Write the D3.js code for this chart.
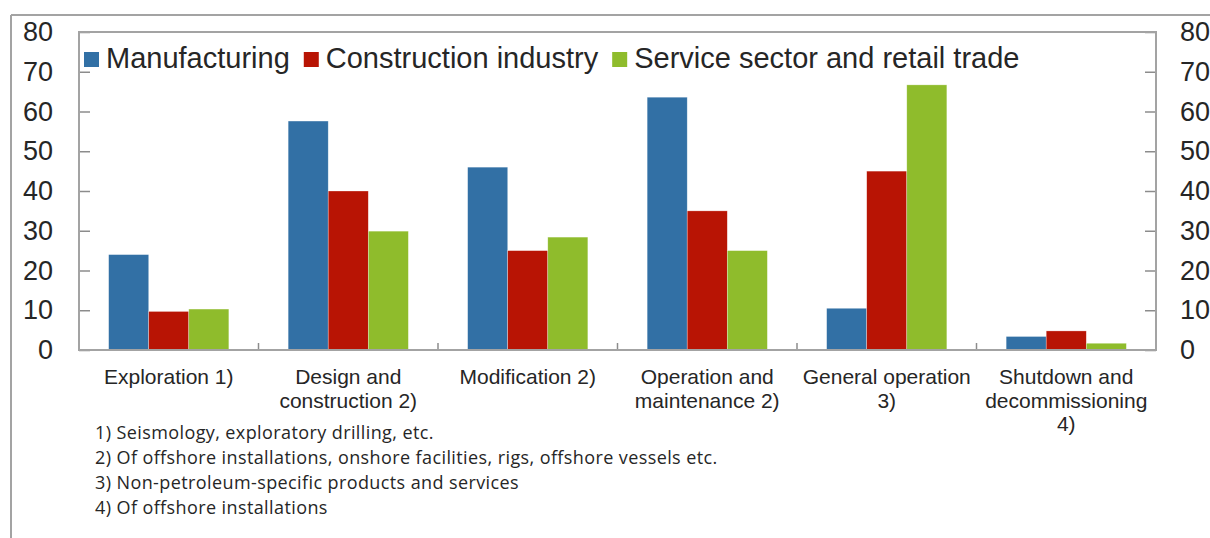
<!DOCTYPE html>
<html>
<head>
<meta charset="utf-8">
<script src="https://cdn.jsdelivr.net/npm/d3@7/dist/d3.min.js"></script>
<style>
  html, body { margin: 0; padding: 0; background: #fff; overflow: hidden; }
  svg { display: block; }
  .axis path { display: none; }
  .axis line { stroke: #8c8c8c; stroke-width: 1.5; }
  .axis text { font-family: "Liberation Sans", Arial, sans-serif; font-size: 27px; fill: #262626; }
</style>
</head>
<body>
<svg id="chart" width="1210" height="538"></svg>
<script>
// Categories (each entry = lines of the axis label)
const categories = [
  ["Exploration 1)"],
  ["Design and", "construction 2)"],
  ["Modification 2)"],
  ["Operation and", "maintenance 2)"],
  ["General operation", "3)"],
  ["Shutdown and", "decommissioning", "4)"]
];
const seriesNames = ["Manufacturing", "Construction industry", "Service sector and retail trade"];
const manufacturing = [24, 57.6, 46, 63.6, 10.5, 3.4];
const construction = [9.7, 40, 25, 35, 45, 4.8];
const serviceRetail = [10.3, 29.9, 28.4, 25, 66.7, 1.7];
const seriesColors = ["#3270A5", "#B81404", "#8FBC2C"];
const yTicks = [0, 10, 20, 30, 40, 50, 60, 70, 80];
const footnotes = [
  "1) Seismology, exploratory drilling, etc.",
  "2) Of offshore installations, onshore facilities, rigs, offshore vessels etc.",
  "3) Non-petroleum-specific products and services",
  "4) Of offshore installations"
];

const seriesValues = [manufacturing, construction, serviceRetail];
const catKeys = categories.map(c => c.join(" "));

const svg = d3.select("#chart");
const plot = { left: 79, right: 1156, top: 32, bottom: 350 };

// Outer frame (top and left edges visible)
svg.append("line").attr("x1", 11).attr("x2", 1210).attr("y1", 15).attr("y2", 15)
  .attr("stroke", "#a3a3a3").attr("stroke-width", 2);
svg.append("line").attr("x1", 11).attr("x2", 11).attr("y1", 15).attr("y2", 538)
  .attr("stroke", "#a3a3a3").attr("stroke-width", 2);

const x0 = d3.scaleBand().domain(catKeys).range([plot.left, plot.right]).padding(0);
const x1 = d3.scaleBand().domain(seriesNames).range([0, x0.bandwidth()])
  .paddingInner(0).paddingOuter(0.74);
const y = d3.scaleLinear().domain([0, 80]).range([plot.bottom, plot.top]);

// Bars
const groups = svg.append("g").selectAll("g")
  .data(catKeys)
  .join("g")
  .attr("transform", d => `translate(${x0(d)},0)`);

groups.selectAll("rect")
  .data((d, i) => seriesNames.map((s, j) => ({ s, j, v: seriesValues[j][i] })))
  .join("rect")
  .attr("x", d => x1(d.s))
  .attr("width", x1.bandwidth())
  .attr("y", d => y(d.v))
  .attr("height", d => y(0) - y(d.v))
  .attr("fill", d => seriesColors[d.j])
  .attr("stroke", "#ffffff")
  .attr("stroke-opacity", 0.5)
  .attr("stroke-width", 0.6);

// Axes
svg.append("g").attr("class", "axis")
  .attr("transform", `translate(${plot.left},0)`)
  .call(d3.axisLeft(y).tickValues(yTicks).tickSize(-11).tickPadding(26));
svg.append("g").attr("class", "axis")
  .attr("transform", `translate(${plot.right},0)`)
  .call(d3.axisRight(y).tickValues(yTicks).tickSize(-11).tickPadding(24));

// Category separators on the baseline
svg.append("g").selectAll("line")
  .data(catKeys.slice(1))
  .join("line")
  .attr("x1", d => x0(d)).attr("x2", d => x0(d))
  .attr("y1", plot.bottom).attr("y2", plot.bottom - 7)
  .attr("stroke", "#8c8c8c").attr("stroke-width", 1.5);

// Plot frame
svg.append("rect")
  .attr("x", plot.left).attr("y", plot.top)
  .attr("width", plot.right - plot.left).attr("height", plot.bottom - plot.top)
  .attr("fill", "none").attr("stroke", "#a3a3a3").attr("stroke-width", 2);

// Category labels
const catLabels = svg.append("g")
  .attr("font-family", "'Liberation Sans', Arial, sans-serif")
  .attr("font-size", 21)
  .attr("fill", "#262626")
  .attr("text-anchor", "middle");
categories.forEach((lines, i) => {
  const cx = x0(catKeys[i]) + x0.bandwidth() / 2;
  const t = catLabels.append("text").attr("x", cx).attr("y", 384);
  lines.forEach((ln, k) => {
    t.append("tspan")
      .attr("x", cx)
      .attr("dy", k === 0 ? 0 : 23.5)
      .text(ln);
  });
});

// Legend
const legend = svg.append("g");
let lx = 84;
seriesNames.forEach((name, j) => {
  legend.append("rect")
    .attr("x", lx).attr("y", 52).attr("width", 15).attr("height", 15)
    .attr("fill", seriesColors[j]);
  const t = legend.append("text")
    .attr("x", lx + 22).attr("y", 68)
    .attr("font-family", "'Liberation Sans', Arial, sans-serif")
    .attr("font-size", 29)
    .attr("fill", "#262626")
    .text(name);
  lx += 22 + t.node().getComputedTextLength() + 14;
});

// Footnotes
svg.append("g")
  .attr("font-family", "'Open Sans', Lato, sans-serif")
  .attr("font-size", 18)
  .attr("letter-spacing", "0.4px")
  .attr("fill", "#262626")
  .selectAll("text")
  .data(footnotes)
  .join("text")
  .attr("x", 95)
  .attr("y", (d, i) => 439 + i * 25)
  .text(d => d);
</script>
</body>
</html>
